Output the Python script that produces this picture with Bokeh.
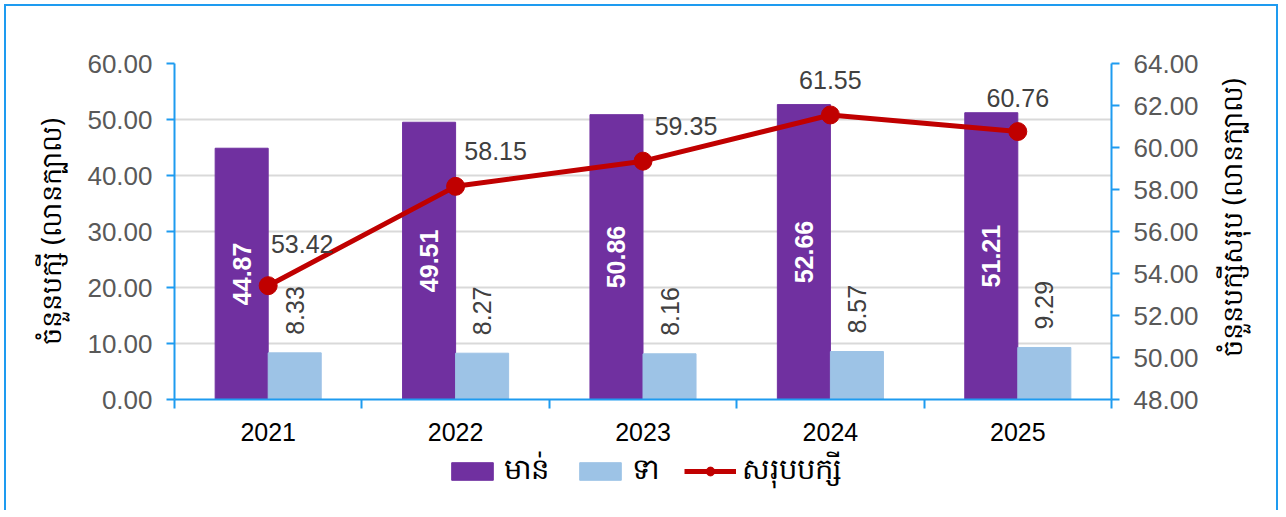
import math
from bokeh.plotting import figure
from bokeh.layouts import column
from bokeh.models import (Range1d, LinearAxis, FixedTicker, NumeralTickFormatter,
                          Legend, LegendItem, ColumnDataSource)
from bokeh.transform import dodge
from bokeh.core.properties import value
from bokeh.embed import file_html
from bokeh.resources import INLINE

# ---------------- data ----------------
years = ["2021", "2022", "2023", "2024", "2025"]
chicken = [44.87, 49.51, 50.86, 52.66, 51.21]
duck = [8.33, 8.27, 8.16, 8.57, 9.29]
total = [53.42, 58.15, 59.35, 61.55, 60.76]
left_ticks = [0, 10, 20, 30, 40, 50, 60]
right_ticks = [48, 50, 52, 54, 56, 58, 60, 62, 64]

series_names = ["មាន់", "ទា", "សរុបបក្សី"]
left_title = "ចំនួនបក្សី (លានក្បាល)"
right_title = "ចំនួនបក្សីសរុប (លានក្បាល)"

# ---------------- styling ----------------
PURPLE = "#7030A0"
LIGHTBLUE = "#9DC3E6"
RED = "#C00000"
AXBLUE = "#1E9BF0"
FONT = "Liberation Sans"
KFONT = "Noto Sans"
BAR_W = 0.283
W = 1282
H_MAIN = 447
H_LEG = 70
RIGHT_TITLE_PAD = "\u00a0" * 6   # lifts the bottom-anchored right title
total_label_dx = [34, 40, 43, 0, 0]
total_label_dy = [-42, -35, -35, -35, -34]

xs = [i + 0.5 for i in range(len(years))]
src = ColumnDataSource(dict(
    x=xs, chicken=chicken, duck=duck, total=total,
    chicken_mid=[v / 2 for v in chicken],
    chicken_lbl=[f"{v:.2f}" for v in chicken],
    duck_lbl=[f"{v:.2f}" for v in duck],
    total_lbl=[f"{v:.2f}" for v in total],
    dx=total_label_dx, dy=total_label_dy,
))

p = figure(width=W, height=H_MAIN,
           x_range=Range1d(0, len(years)), y_range=Range1d(left_ticks[0], left_ticks[-1]),
           output_backend="svg", toolbar_location=None,
           min_border_left=174, min_border_right=W - 1111,
           min_border_top=63, min_border_bottom=H_MAIN - 399)
p.background_fill_color = "white"
p.border_fill_alpha = 0
p.outline_line_color = None
p.extra_y_ranges = {"total": Range1d(right_ticks[0], right_ticks[-1])}

# grid
p.xgrid.visible = False
p.ygrid.grid_line_color = "#D9D9D9"
p.ygrid.grid_line_width = 2


def draw_series(fig, visible=True):
    r1 = fig.vbar(x=dodge("x", -BAR_W / 2), top="chicken", bottom=0, width=BAR_W,
                  source=src, fill_color=PURPLE, line_color=PURPLE, visible=visible)
    r2 = fig.vbar(x=dodge("x", BAR_W / 2), top="duck", bottom=0, width=BAR_W,
                  source=src, fill_color=LIGHTBLUE, line_color=LIGHTBLUE, visible=visible)
    r3 = fig.line("x", "total", source=src, y_range_name="total",
                  line_color=RED, line_width=5, visible=visible)
    r4 = fig.scatter("x", "total", source=src, y_range_name="total", size=18,
                     fill_color=RED, line_color=RED, visible=visible)
    return r1, r2, r3, r4


draw_series(p)

# labels
p.text(x=dodge("x", -BAR_W / 2), y="chicken_mid", text="chicken_lbl", source=src,
       angle=math.pi / 2, text_align="center", text_baseline="middle",
       text_color="white", text_font_style="bold", text_font_size="25px",
       text_font=value(FONT))
p.text(x=dodge("x", BAR_W / 2), y="duck", text="duck_lbl", source=src,
       angle=math.pi / 2, text_align="left", text_baseline="middle",
       y_offset=-18, text_color="#404040", text_font_size="25px",
       text_font=value(FONT))
p.text(x="x", y="total", text="total_lbl", source=src, y_range_name="total",
       x_offset="dx", y_offset="dy", text_align="center", text_baseline="middle",
       text_color="#404040", text_font_size="25px", text_font=value(FONT))

# x axis
xa = p.xaxis[0]
xa.ticker = FixedTicker(ticks=xs, minor_ticks=list(range(len(years) + 1)))
xa.major_label_overrides = {x: y for x, y in zip(xs, years)}
xa.axis_line_color = AXBLUE
xa.axis_line_width = 2
xa.major_tick_in = 0
xa.major_tick_out = 0
xa.minor_tick_in = 0
xa.minor_tick_out = 9
xa.minor_tick_line_color = AXBLUE
xa.minor_tick_line_width = 2
xa.major_label_text_font = FONT
xa.major_label_text_font_size = "25px"
xa.major_label_text_color = "#000000"
xa.major_label_standoff = 14

# left axis
ya = p.yaxis[0]
ya.ticker = FixedTicker(ticks=left_ticks)
ya.formatter = NumeralTickFormatter(format="0.00")
ya.axis_line_color = AXBLUE
ya.axis_line_width = 2
ya.major_tick_line_color = AXBLUE
ya.major_tick_line_width = 2
ya.major_tick_in = 0
ya.major_tick_out = 8
ya.minor_tick_line_color = None
ya.major_label_text_font = FONT
ya.major_label_text_font_size = "26px"
ya.major_label_text_color = "#595959"
ya.major_label_standoff = 14
ya.axis_label = left_title
ya.axis_label_text_font = KFONT
ya.axis_label_text_font_style = "normal"
ya.axis_label_text_font_size = "27px"
ya.axis_label_text_color = "#000000"
ya.axis_label_standoff = 15

# right axis
ra = LinearAxis(y_range_name="total", ticker=FixedTicker(ticks=right_ticks),
                formatter=NumeralTickFormatter(format="0.00"))
ra.axis_line_color = AXBLUE
ra.axis_line_width = 2
ra.major_tick_line_color = AXBLUE
ra.major_tick_line_width = 2
ra.major_tick_in = 0
ra.major_tick_out = 8
ra.minor_tick_line_color = None
ra.major_label_text_font = FONT
ra.major_label_text_font_size = "26px"
ra.major_label_text_color = "#595959"
ra.major_label_standoff = 14
ra.axis_label = RIGHT_TITLE_PAD + right_title
ra.axis_label_orientation = math.pi / 2
ra.axis_label_align = "start"
ra.axis_label_text_font = KFONT
ra.axis_label_text_font_style = "normal"
ra.axis_label_text_font_size = "27px"
ra.axis_label_text_color = "#000000"
ra.axis_label_standoff = 30
p.add_layout(ra, "right")

# legend strip (a second figure below, holding only the legend)
lf = figure(width=W, height=H_LEG, x_range=Range1d(0, len(years)),
            y_range=Range1d(left_ticks[0], left_ticks[-1]),
            output_backend="svg", toolbar_location=None,
            min_border=0, min_border_left=0, min_border_right=0,
            min_border_top=0, min_border_bottom=0)
lf.extra_y_ranges = {"total": Range1d(right_ticks[0], right_ticks[-1])}
lf.axis.visible = False
lf.grid.visible = False
lf.outline_line_color = None
lf.background_fill_alpha = 0
lf.border_fill_alpha = 0
lb1, lb2, lln, lpts = draw_series(lf, visible=False)

legend = Legend(items=[
    LegendItem(label=series_names[0], renderers=[lb1]),
    LegendItem(label=series_names[1], renderers=[lb2]),
    LegendItem(label=series_names[2], renderers=[lln, lpts]),
], orientation="horizontal", location=(272, 24), click_policy="none",
    glyph_width=52, glyph_height=22, spacing=25, label_standoff=6,
    label_text_font=KFONT, label_text_font_size="29px", label_text_color="#000000",
    border_line_color=None, background_fill_alpha=0, padding=0, margin=0)
lf.add_layout(legend)

layout = column(p, lf, spacing=0)
layout.styles = {"outline": f"2px solid {AXBLUE}", "outline-offset": "-6px",
                 "clip-path": "inset(0px 0px 7px 0px)"}

open("out.html", "w").write(file_html(layout, INLINE))
